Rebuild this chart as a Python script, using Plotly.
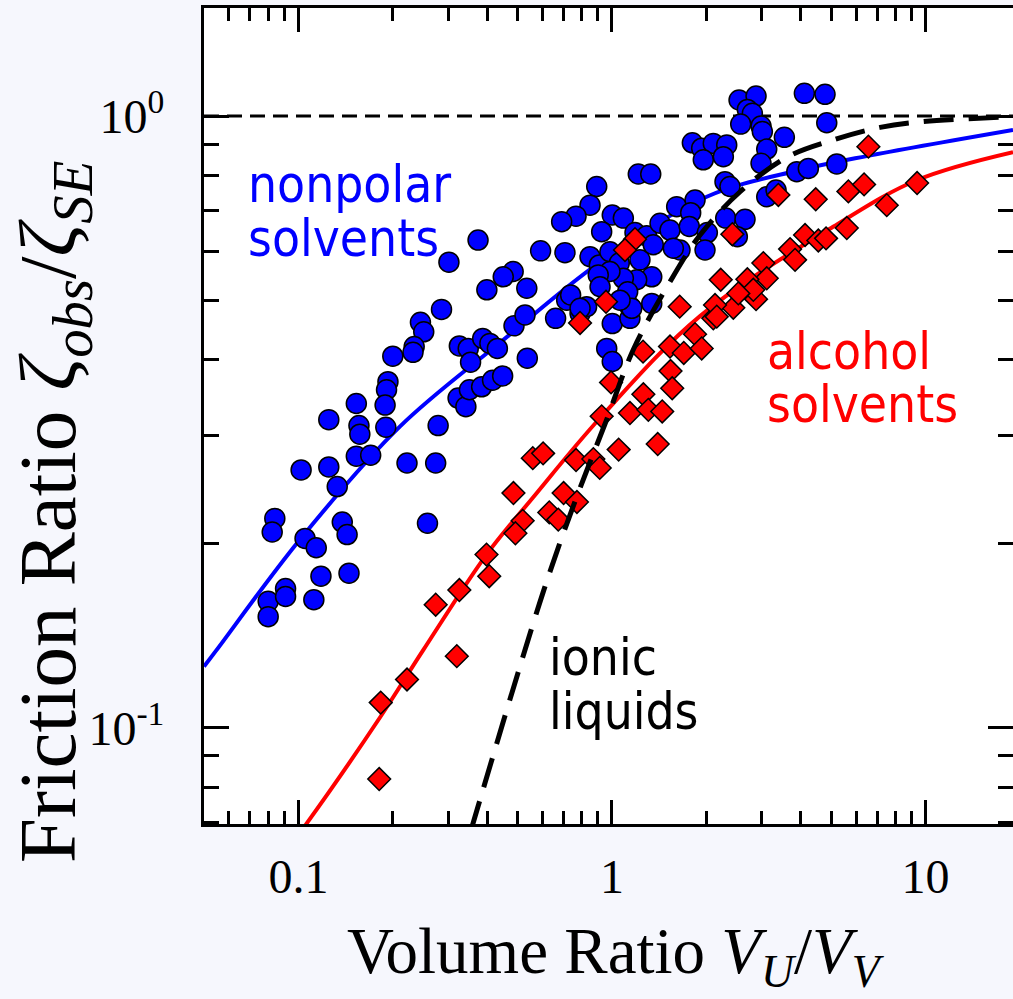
import math
import plotly.graph_objects as go

# ---------------- data ----------------
nonpolar_x = [0.286, 0.245, 0.251, 0.200, 0.234, 0.232, 0.193, 0.191, 0.153, 0.189,
              0.125, 0.156, 0.157, 0.190, 0.153, 0.170, 0.102, 0.125, 0.133, 0.222,
              0.274, 0.279, 0.258, 0.0841, 0.0825, 0.105, 0.114, 0.138, 0.143, 0.118,
              0.145, 0.0801, 0.0910, 0.0910, 0.112, 0.0801, 0.326, 0.348, 0.387, 0.408,
              0.431, 0.354, 0.323, 0.342, 0.351, 0.384, 0.416, 0.448, 0.487, 0.528,
              0.537, 0.661, 0.791, 1.002, 0.962, 1.002, 1.141, 1.141, 0.830, 0.717,
              2.542, 2.880, 2.702, 2.803, 2.573, 2.987, 3.016, 4.106, 4.779, 4.840,
              3.545, 3.115, 2.987, 1.804, 1.932, 2.104, 2.322, 1.955, 2.265, 1.213,
              1.329, 0.894, 0.851, 0.768, 0.691, 1.002, 1.087, 0.927, 1.184, 1.290,
              1.423, 1.531, 1.608, 1.840, 1.782, 1.764, 2.014, 2.293, 2.378, 2.305,
              2.656, 2.510, 3.115, 3.336, 3.884, 4.228, 5.210, 0.592, 0.708, 0.851,
              0.911, 0.985, 1.055, 1.228, 1.354, 1.339, 1.199, 1.087, 0.985, 0.904,
              0.916, 1.122, 1.156, 1.061, 1.339, 1.648, 1.569, 1.980, 0.738, 0.791,
              0.484, 0.535, 0.450, 0.374, 0.302, 0.399]
nonpolar_y = [0.483, 0.460, 0.444, 0.405, 0.420, 0.411, 0.368, 0.357, 0.339, 0.337,
              0.319, 0.312, 0.302, 0.310, 0.278, 0.279, 0.264, 0.267, 0.248, 0.271,
              0.271, 0.312, 0.216, 0.220, 0.209, 0.204, 0.197, 0.217, 0.207, 0.177,
              0.179, 0.161, 0.169, 0.164, 0.162, 0.152, 0.421, 0.417, 0.433, 0.425,
              0.417, 0.396, 0.346, 0.335, 0.357, 0.361, 0.370, 0.376, 0.454, 0.473,
              0.402, 0.467, 0.476, 0.458, 0.417, 0.397, 0.467, 0.488, 0.488, 0.500,
              1.062, 1.078, 1.025, 1.010, 0.970, 0.963, 0.943, 1.089, 1.085, 0.975,
              0.923, 0.883, 0.837, 0.904, 0.886, 0.902, 0.897, 0.848, 0.858, 0.804,
              0.804, 0.767, 0.715, 0.686, 0.672, 0.689, 0.681, 0.647, 0.645, 0.637,
              0.668, 0.651, 0.711, 0.729, 0.695, 0.660, 0.645, 0.781, 0.767, 0.681,
              0.678, 0.635, 0.738, 0.757, 0.811, 0.821, 0.835, 0.602, 0.598, 0.589,
              0.571, 0.600, 0.575, 0.582, 0.616, 0.546, 0.540, 0.543, 0.557, 0.550,
              0.526, 0.516, 0.485, 0.500, 0.494, 0.604, 0.608, 0.604, 0.510, 0.485,
              0.557, 0.523, 0.546, 0.627, 0.577, 0.520]

alcohol_x = [0.181, 0.183, 0.222, 0.274, 0.326, 0.320, 0.398, 0.406, 0.485, 0.519,
             0.492, 0.559, 0.603, 0.631, 0.674, 0.701, 0.768, 0.773, 0.872, 0.914,
             1.050, 0.927, 0.993, 1.141, 1.259, 1.306, 1.446, 1.399, 1.531, 1.537,
             1.556, 1.694, 1.256, 0.791, 0.957, 1.644, 1.840, 1.932, 2.104, 2.437,
             2.880, 6.571, 3.393, 4.464, 5.673, 6.366, 9.396, 7.519, 2.420, 1.184,
             1.100, 4.127, 4.550, 4.815, 5.607, 3.697, 3.835, 3.038, 3.115, 2.702,
             2.823, 2.222, 2.529, 2.131, 2.158]
alcohol_y = [0.0825, 0.110, 0.120, 0.159, 0.168, 0.131, 0.192, 0.177, 0.242, 0.218,
             0.208, 0.276, 0.281, 0.225, 0.219, 0.242, 0.274, 0.234, 0.275, 0.266,
             0.285, 0.323, 0.367, 0.327, 0.351, 0.331, 0.329, 0.291, 0.420, 0.383,
             0.359, 0.410, 0.412, 0.459, 0.497, 0.488, 0.440, 0.417, 0.467, 0.486,
             0.502, 0.891, 0.743, 0.731, 0.753, 0.773, 0.777, 0.715, 0.641, 0.629,
             0.604, 0.639, 0.626, 0.631, 0.656, 0.606, 0.582, 0.575, 0.543, 0.541,
             0.520, 0.540, 0.513, 0.491, 0.470]

nonpolar_fit_x = [0.0500, 0.0548, 0.101, 0.211, 0.439, 0.916, 2.005, 3.98, 6.49, 19.0]
nonpolar_fit_y = [0.126, 0.134, 0.203, 0.311, 0.426, 0.577, 0.738, 0.816, 0.860, 0.949]

alcohol_fit_x = [0.100, 0.106, 0.182, 0.250, 0.398, 0.560, 0.916, 1.909, 5.07, 9.40, 19.0]
alcohol_fit_y = [0.067, 0.0697, 0.104, 0.134, 0.192, 0.238, 0.321, 0.471, 0.659, 0.786, 0.873]

ionic_fit_x = [0.355, 0.604, 0.768, 0.957, 1.169, 1.531, 1.909, 2.561, 3.608, 5.081, 7.16, 9.82, 19.0]
ionic_fit_y = [0.068, 0.167, 0.237, 0.317, 0.415, 0.536, 0.639, 0.752, 0.856, 0.914, 0.958, 0.979, 0.997]

unity_x = [0.05, 19.0]
unity_y = [1.0, 1.0]

x_tick_vals = [0.1, 1, 10]
x_tick_text = ["0.1", "1", "10"]
x_minor_vals = [0.06, 0.07, 0.08, 0.09, 0.2, 0.3, 0.4, 0.5, 0.6, 0.7, 0.8, 0.9,
                2, 3, 4, 5, 6, 7, 8, 9]
y_tick_vals = [0.1, 1]
y_tick_text = ["10<sup>-1</sup>", "10<sup>0</sup>"]
y_minor_vals = [0.07, 0.08, 0.09, 0.2, 0.3, 0.4, 0.5, 0.6, 0.7, 0.8, 0.9]

# ---------------- figure ----------------
SERIF = "Liberation Serif, Times New Roman, serif"
SANS = "DejaVu Sans Condensed, DejaVu Sans, sans-serif"

L, R, T, B = 204, 0, 8, 175
W, H = 1013, 999
pw, ph = W - L - R, H - T - B

def px2paper(px, py):
    return (px - L) / pw, (H - B - py) / ph

fig = go.Figure()

fig.add_trace(go.Scatter(x=unity_x, y=unity_y, mode="lines",
                         line=dict(color="black", width=3, dash="15px,8px"),
                         showlegend=False, hoverinfo="skip"))
fig.add_trace(go.Scatter(x=nonpolar_fit_x, y=nonpolar_fit_y, mode="lines",
                         line=dict(color="#0000ff", width=4, shape="spline"),
                         showlegend=False, hoverinfo="skip"))
fig.add_trace(go.Scatter(x=alcohol_fit_x, y=alcohol_fit_y, mode="lines",
                         line=dict(color="#ff0000", width=4, shape="spline"),
                         showlegend=False, hoverinfo="skip"))
fig.add_trace(go.Scatter(x=nonpolar_x, y=nonpolar_y, mode="markers",
                         marker=dict(symbol="circle", size=20, color="#0000ff",
                                     line=dict(color="black", width=1.5)),
                         showlegend=False))
fig.add_trace(go.Scatter(x=alcohol_x, y=alcohol_y, mode="markers",
                         marker=dict(symbol="diamond", size=17.5, color="#ff0000",
                                     line=dict(color="black", width=1.5)),
                         showlegend=False))
fig.add_trace(go.Scatter(x=ionic_fit_x, y=ionic_fit_y, mode="lines",
                         line=dict(color="black", width=5, dash="30px,15px", shape="spline"),
                         showlegend=False, hoverinfo="skip"))
# invisible trace so the right-hand tick axis is drawn
fig.add_trace(go.Scatter(x=[None], y=[None], yaxis="y2", mode="lines",
                         showlegend=False, hoverinfo="skip"))

xr = [math.log10(0.05), math.log10(19.0)]
yr = [-1.157, 0.1765]

fig.update_layout(
    width=W, height=H,
    margin=dict(l=L, r=R, t=T, b=B, pad=0),
    paper_bgcolor="#f6f7fd",
    plot_bgcolor="white",
    showlegend=False,
    xaxis=dict(type="log", range=xr, showgrid=False, zeroline=False,
               showline=True, linecolor="black", linewidth=3, mirror="ticks",
               ticks="inside", ticklen=24, tickwidth=3, tickcolor="black",
               tickmode="array", tickvals=x_tick_vals, ticktext=x_tick_text,
               tickfont=dict(family=SERIF, size=48, color="black"),
               ticklabelstandoff=8,
               minor=dict(ticks="inside", ticklen=13, tickwidth=3, tickcolor="black",
                          tickmode="array", tickvals=x_minor_vals, showgrid=False)),
    yaxis=dict(type="log", range=yr, showgrid=False, zeroline=False,
               showline=True, linecolor="black", linewidth=3, mirror=False,
               ticks="inside", ticklen=25, tickwidth=3, tickcolor="black",
               tickmode="array", tickvals=y_tick_vals, ticktext=y_tick_text,
               tickfont=dict(family=SERIF, size=48, color="black"),
               ticklabelstandoff=27,
               minor=dict(ticks="inside", ticklen=15, tickwidth=3, tickcolor="black",
                          tickmode="array", tickvals=y_minor_vals, showgrid=False)),
    yaxis2=dict(type="log", range=yr, overlaying="y", side="right", anchor="x",
                showgrid=False, zeroline=False, showline=False,
                ticks="inside", ticklen=25, tickwidth=3, tickcolor="black",
                tickmode="array", tickvals=y_tick_vals, showticklabels=False,
                minor=dict(ticks="inside", ticklen=15, tickwidth=3, tickcolor="black",
                           tickmode="array", tickvals=y_minor_vals, showgrid=False)),
)

annotations = []
def add_text(text, px, py, color, size, family, xanchor="left", angle=0):
    ax, ay = px2paper(px, py)
    annotations.append(dict(text=text, x=ax, y=ay, xref="paper", yref="paper",
                            xanchor=xanchor, yanchor="middle", showarrow=False,
                            textangle=angle,
                            font=dict(family=family, size=size, color=color)))

add_text("nonpolar", 246, 184, "#0000ff", 51, SANS)
add_text("solvents", 246, 238, "#0000ff", 51, SANS)
add_text("alcohol", 765, 352, "#ff0000", 51, SANS)
add_text("solvents", 765, 404, "#ff0000", 51, SANS)
add_text("ionic", 547, 657, "black", 51, SANS)
add_text("liquids", 547, 711, "black", 51, SANS)

add_text("Volume Ratio <i>V</i><sub><i>U</i></sub>/<i>V</i><sub><i>V</i></sub>",
         616, 956, "black", 65, SERIF, xanchor="center")
add_text("Friction Ratio <i>ζ</i><sub><i>obs</i></sub>/<i>ζ</i><sub><i>SE</i></sub>",
         53, 512, "black", 81, SERIF, xanchor="center", angle=-90)

fig.update_layout(annotations=annotations)

fig.write_html("out.html")
